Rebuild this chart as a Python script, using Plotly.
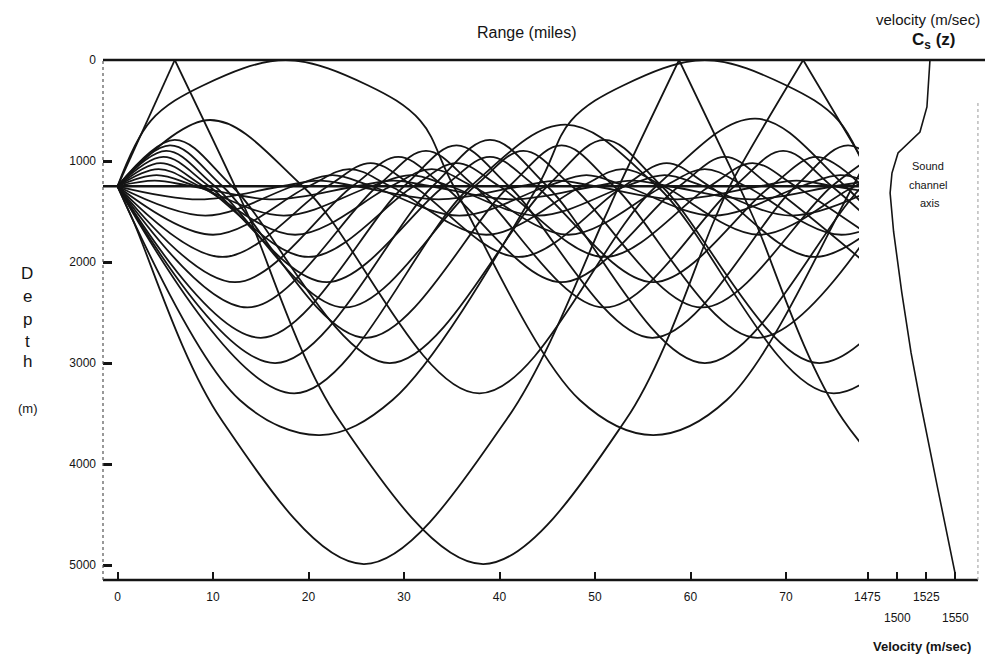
import plotly.graph_objects as go

# ---------------- data ----------------
range_ticks = [0, 10, 20, 30, 40, 50, 60, 70]
depth_ticks = [0, 1000, 2000, 3000, 4000, 5000]
velocity_ticks = [1475, 1500, 1525, 1550]
velocity_labels = ["1475", "1500", "1525", "1550"]

# sound-speed profile Cs(z): velocity (m/s) vs depth (m)
profile_velocity = [1528.2, 1525.6, 1519.6, 1500.8, 1495.6, 1494.0, 1497.0, 1504.0, 1512.0, 1519.6, 1535.0, 1549.7]
profile_depth = [0, 465, 713, 920, 1119, 1317, 1700, 2300, 2900, 3366, 4250, 5079]

source_depth = 1250          # sound channel axis / source depth (m)
axis_range = [-1.52, 77.64]  # range along the axis line (miles)

# ray paths: (range in miles, depth in m) at turning points / axis crossings
# steep rays reflected at the surface (split at each reflection)
ray_steep_down_a = [(0, 1250), (1.6, 1584), (10.9, 3564), (25.8, 4990), (40.7, 3564), (50.9, 1584), (52.5, 1250), (58.8, 0)]
ray_steep_down_b = [(58.8, 0), (65.1, 1250), (66.7, 1584), (76.0, 3564), (90.9, 4990)]
ray_steep_up_a = [(0, 1250), (6.0, 0)]
ray_steep_up_b = [(6.0, 0), (12.3, 1250), (13.9, 1584), (23.2, 3564), (38.3, 4990), (53.2, 3564), (62.5, 1584), (64.1, 1250), (71.8, 0)]
ray_steep_up_c = [(71.8, 0), (77.4, 891), (79.6, 1250)]
# rays grazing the surface
ray_surf_up = [(0, 1250), (3.5, 600), (9.0, 250), (17.6, 0), (26.2, 250), (31.7, 600), (35.2, 1250),
               (48.4, 3366), (56.1, 3713), (63.8, 3366), (77.0, 1250), (80.5, 600)]
ray_surf_down = [(0, 1250), (12.8, 3366), (21.2, 3713), (28.8, 3366), (44.0, 1250), (47.5, 600), (53.0, 250),
                 (61.5, 0), (70.0, 250), (75.5, 600), (79.0, 1250)]
# refracted rays (upper turn 600 m)
ray_f3_up = [(0, 1250), (9.7, 594), (19.4, 1250), (37.9, 3300), (56.4, 1250), (66.8, 580), (76.2, 1250), (94.7, 3300)]
ray_f3_down = [(0, 1250), (18.5, 3300), (37.0, 1250), (46.9, 640), (56.5, 1250), (75.0, 3300), (93.5, 1250)]
# rays trapped near the axis
ray_f4_up = [(0, 1250), (6.0, 790), (12.0, 1250), (28.5, 3000), (45.0, 1250), (51.0, 790), (57.0, 1250), (73.5, 3000), (90.0, 1250)]
ray_f4_down = [(0, 1250), (16.5, 3000), (33.0, 1250), (39.0, 790), (45.0, 1250), (61.5, 3000), (78.0, 1250), (84.0, 790)]
ray_f5_up = [(0, 1250), (5.5, 845), (11.0, 1250), (26.0, 2750), (41.0, 1250), (46.5, 845), (52.0, 1250), (67.0, 2750), (82.0, 1250)]
ray_f5_down = [(0, 1250), (15.0, 2750), (30.0, 1250), (35.5, 845), (41.0, 1250), (56.0, 2750), (71.0, 1250), (76.5, 845), (82.0, 1250)]
ray_f6_up = [(0, 1250), (5.1, 900), (10.2, 1250), (23.8, 2450), (37.4, 1250), (42.5, 900), (47.6, 1250), (61.2, 2450), (74.8, 1250), (79.9, 900)]
ray_f6_down = [(0, 1250), (13.6, 2450), (27.2, 1250), (32.3, 900), (37.4, 1250), (51.0, 2450), (64.6, 1250), (69.7, 900), (74.8, 1250), (88.4, 2450)]
ray_f7_up = [(0, 1250), (4.8, 960), (9.6, 1250), (21.9, 2200), (34.2, 1250), (39.0, 960), (43.8, 1250), (56.1, 2200), (68.4, 1250), (73.2, 960), (78.0, 1250)]
ray_f7_down = [(0, 1250), (12.3, 2200), (24.6, 1250), (29.4, 960), (34.2, 1250), (46.5, 2200), (58.8, 1250), (63.6, 960), (68.4, 1250), (80.7, 2200)]
ray_f8_up = [(0, 1250), (4.5, 1020), (9.0, 1250), (20.0, 1950), (31.0, 1250), (35.5, 1020), (40.0, 1250), (51.0, 1950), (62.0, 1250), (66.5, 1020), (71.0, 1250), (82.0, 1950)]
ray_f8_down = [(0, 1250), (11.0, 1950), (22.0, 1250), (26.5, 1020), (31.0, 1250), (42.0, 1950), (53.0, 1250), (57.5, 1020), (62.0, 1250), (73.0, 1950), (84.0, 1250)]
ray_f9_up = [(0, 1250), (4.3, 1080), (8.6, 1250), (18.6, 1730), (28.6, 1250), (32.9, 1080), (37.2, 1250), (47.2, 1730), (57.2, 1250), (61.5, 1080), (65.8, 1250), (75.8, 1730), (85.8, 1250)]
ray_f9_down = [(0, 1250), (10.0, 1730), (20.0, 1250), (24.3, 1080), (28.6, 1250), (38.6, 1730), (48.6, 1250), (52.9, 1080), (57.2, 1250), (67.2, 1730), (77.2, 1250), (81.5, 1080)]
ray_f10_up = [(0, 1250), (4.1, 1140), (8.2, 1250), (17.4, 1540), (26.6, 1250), (30.7, 1140), (34.8, 1250), (44.0, 1540), (53.2, 1250), (57.3, 1140), (61.4, 1250), (70.6, 1540), (79.8, 1250)]
ray_f10_down = [(0, 1250), (9.2, 1540), (18.4, 1250), (22.5, 1140), (26.6, 1250), (35.8, 1540), (45.0, 1250), (49.1, 1140), (53.2, 1250), (62.4, 1540), (71.6, 1250), (75.7, 1140), (79.8, 1250)]
ray_f11_up = [(0, 1250), (3.9, 1195), (7.8, 1250), (16.4, 1380), (25.0, 1250), (28.9, 1195), (32.8, 1250), (41.4, 1380), (50.0, 1250), (53.9, 1195), (57.8, 1250), (66.4, 1380), (75.0, 1250), (78.9, 1195)]
ray_f11_down = [(0, 1250), (8.6, 1380), (17.2, 1250), (21.1, 1195), (25.0, 1250), (33.6, 1380), (42.2, 1250), (46.1, 1195), (50.0, 1250), (58.6, 1380), (67.2, 1250), (71.1, 1195), (75.0, 1250), (83.6, 1380)]

rays = [ray_steep_down_a, ray_steep_down_b, ray_steep_up_a, ray_steep_up_b, ray_steep_up_c,
        ray_surf_up, ray_surf_down, ray_f3_up, ray_f3_down,
        ray_f4_up, ray_f4_down, ray_f5_up, ray_f5_down, ray_f6_up, ray_f6_down,
        ray_f7_up, ray_f7_down, ray_f8_up, ray_f8_down, ray_f9_up, ray_f9_down,
        ray_f10_up, ray_f10_down, ray_f11_up, ray_f11_down]

# ---------------- figure ----------------
INK = "#141414"
FONT = "Liberation Sans"
X_SPLIT = 0.8571
# the page body adds an 8px offset; the figure is sized so the plot area
# lands at page pixels x 103..985, y 60..580
OFF = 8
FIG_W, FIG_H = 1003 - OFF, 657 - OFF

fig = go.Figure()

for r in rays:
    fig.add_trace(go.Scatter(
        x=[p[0] for p in r], y=[p[1] for p in r], mode="lines",
        line=dict(color=INK, width=1.8, shape="spline", smoothing=1.0),
        xaxis="x", yaxis="y", hoverinfo="skip", showlegend=False))

# sound channel axis line
fig.add_trace(go.Scatter(x=axis_range, y=[source_depth, source_depth], mode="lines",
                         line=dict(color=INK, width=2.4), xaxis="x", yaxis="y",
                         hoverinfo="skip", showlegend=False))

# velocity profile
fig.add_trace(go.Scatter(x=profile_velocity, y=profile_depth, mode="lines",
                         line=dict(color=INK, width=1.6), xaxis="x2", yaxis="y",
                         hoverinfo="skip", showlegend=False))

fig.update_layout(
    width=FIG_W, height=FIG_H,
    margin=dict(l=103 - OFF, r=18, t=60 - OFF, b=77, autoexpand=False),
    paper_bgcolor="white", plot_bgcolor="white",
    font=dict(family=FONT, size=12, color=INK),
    xaxis=dict(domain=[0, X_SPLIT], range=[-1.52, 77.64], tickvals=range_ticks,
               ticks="inside", ticklen=8, tickwidth=1.5, tickcolor=INK,
               showgrid=False, zeroline=False, showline=False, ticklabelstandoff=8,
               tickfont=dict(family=FONT, size=12, color=INK), anchor="y"),
    xaxis2=dict(domain=[X_SPLIT, 1], range=[1467.27, 1575.43], tickvals=velocity_ticks,
                ticks="inside", ticklen=8, tickwidth=1.5, tickcolor=INK,
                showticklabels=False, showgrid=False, zeroline=False, showline=False,
                anchor="y"),
    yaxis=dict(range=[5148, 0], tickvals=depth_ticks, ticks="inside", ticklen=9,
               tickwidth=2.5, tickcolor=INK, showgrid=False, zeroline=False, showline=False,
               tickfont=dict(family=FONT, size=12, color=INK), ticklabelstandoff=6),
)

shapes = [
    # top line (surface)
    dict(type="line", xref="paper", yref="paper", x0=0, x1=1, y0=1, y1=1,
         line=dict(color=INK, width=2.5)),
    # bottom axis line
    dict(type="line", xref="paper", yref="paper", x0=0, x1=0.992, y0=0, y1=0,
         line=dict(color=INK, width=2.5)),
    # dotted left axis
    dict(type="line", xref="paper", yref="paper", x0=0, x1=0, y0=0, y1=1,
         line=dict(color="#555555", width=1.2, dash="dot")),
    # faint dotted right border
    dict(type="line", xref="paper", yref="paper", x0=0.992, x1=0.992, y0=0, y1=0.92,
         line=dict(color="#9a9a9a", width=1, dash="dot")),
]
fig.update_layout(shapes=shapes)

ann = []
def text(x, y, s, size, xanchor="center", yanchor="middle", bold=False, xref="paper", yref="paper"):
    ann.append(dict(x=x, y=y, xref=xref, yref=yref, text=("<b>%s</b>" % s) if bold else s,
                    showarrow=False, xanchor=xanchor, yanchor=yanchor,
                    font=dict(family=FONT, size=size, color=INK)))

def px(xp):   # page pixel -> paper x
    return (xp - 103) / 882.0
def py(yp):   # page pixel -> paper y
    return (580 - yp) / 520.0

text(px(527), py(33), "Range (miles)", 16)
text(px(928), py(19), "velocity (m/sec)", 15)
text(px(933), py(41), "C<sub>s</sub> (z)", 17, bold=True)
text(px(928), py(166), "Sound", 11)
text(px(928), py(185), "channel", 11)
text(px(930), py(203), "axis", 11)
for ch, yy in zip(["D", "e", "p", "t", "h"], [273, 296, 319, 341, 362]):
    text(px(27), py(yy), ch, 17)
text(px(28), py(408), "(m)", 13)
# staggered velocity tick labels
for v, lab, row in zip(velocity_ticks, velocity_labels, [0, 1, 0, 1]):
    ann.append(dict(x=v, y=py(597 + 21 * row), xref="x2", yref="paper", text=lab,
                    showarrow=False, xanchor="center", yanchor="middle",
                    font=dict(family=FONT, size=12, color=INK)))
text(px(922), py(646), "<b>Velocity (m/sec)</b>", 13)
fig.update_layout(annotations=ann)

fig.write_html("out.html")
